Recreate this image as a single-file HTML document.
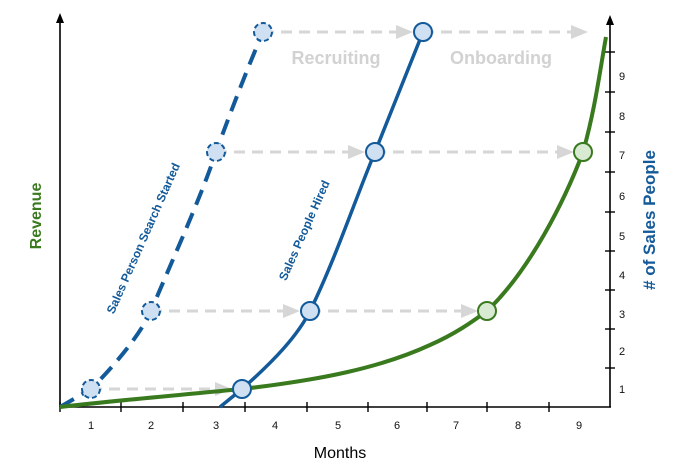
<!DOCTYPE html>
<html><head><meta charset="utf-8"><style>
html,body{margin:0;padding:0;background:#fff;}
svg{display:block;font-family:"Liberation Sans",Arial,sans-serif;}
</style></head><body>
<svg width="683" height="473" viewBox="0 0 683 473" xmlns="http://www.w3.org/2000/svg">
<!-- axes -->
<line x1="60" y1="407" x2="60" y2="22" stroke="#000" stroke-width="1.6"/>
<polygon points="60,13 56,23 64,23" fill="#000"/>
<line x1="610" y1="407" x2="610" y2="24" stroke="#000" stroke-width="1.6"/>
<polygon points="610,15 606,25 614,25" fill="#000"/>
<line x1="60" y1="407" x2="611" y2="407" stroke="#000" stroke-width="1.6"/>
<g stroke="#000" stroke-width="1.4">
<line x1="121" y1="402" x2="121" y2="412"/><line x1="183" y1="402" x2="183" y2="412"/><line x1="245" y1="402" x2="245" y2="412"/><line x1="307" y1="402" x2="307" y2="412"/><line x1="368" y1="402" x2="368" y2="412"/><line x1="427" y1="402" x2="427" y2="412"/><line x1="487" y1="402" x2="487" y2="412"/><line x1="549" y1="402" x2="549" y2="412"/><line x1="60" y1="402" x2="60" y2="412"/>
<line x1="605" y1="368" x2="615" y2="368"/><line x1="605" y1="329" x2="615" y2="329"/><line x1="605" y1="290" x2="615" y2="290"/><line x1="605" y1="251" x2="615" y2="251"/><line x1="605" y1="212" x2="615" y2="212"/><line x1="605" y1="172" x2="615" y2="172"/><line x1="605" y1="132" x2="615" y2="132"/><line x1="605" y1="92" x2="615" y2="92"/><line x1="605" y1="52" x2="615" y2="52"/>
</g>
<g font-size="11" fill="#111" text-anchor="middle">
<text x="91" y="429">1</text><text x="151" y="429">2</text><text x="216" y="429">3</text><text x="275" y="429">4</text><text x="338" y="429">5</text><text x="397" y="429">6</text><text x="456" y="429">7</text><text x="518" y="429">8</text><text x="579" y="429">9</text>
</g>
<g font-size="11" fill="#111">
<text x="619" y="393">1</text><text x="619" y="355">2</text><text x="619" y="318">3</text><text x="619" y="279">4</text><text x="619" y="240">5</text><text x="619" y="200">6</text><text x="619" y="159">7</text><text x="619" y="120">8</text><text x="619" y="80">9</text>
</g>
<text x="340" y="458" font-size="16" text-anchor="middle" fill="#000">Months</text>
<text transform="translate(41,216) rotate(-90)" font-size="16" font-weight="bold" fill="#3a7a1e" text-anchor="middle">Revenue</text>
<text transform="translate(655,220) rotate(-90)" font-size="17" font-weight="bold" fill="#135a9a" text-anchor="middle"># of Sales People</text>
<text x="336" y="64" font-size="18" font-weight="bold" fill="#d2d2d2" text-anchor="middle">Recruiting</text>
<text x="501" y="64" font-size="18" font-weight="bold" fill="#d2d2d2" text-anchor="middle">Onboarding</text>
<!-- gray dashed arrows -->
<g stroke="#d6d6d6" stroke-width="3" stroke-dasharray="11,7" fill="none">
<line x1="91" y1="389" x2="222" y2="389"/>
<line x1="151" y1="311" x2="288" y2="311"/><line x1="310" y1="311" x2="466" y2="311"/>
<line x1="216" y1="152" x2="353" y2="152"/><line x1="375" y1="152" x2="561" y2="152"/>
<line x1="263" y1="32" x2="401" y2="32"/><line x1="423" y1="32" x2="572" y2="32"/>
</g>
<g fill="#d6d6d6">
<polygon points="232,389 215,382 215,396"/>
<polygon points="300,311 283,304 283,318"/><polygon points="478,311 461,304 461,318"/>
<polygon points="365,152 348,145 348,159"/><polygon points="574,152 557,145 557,159"/>
<polygon points="413,32 396,25 396,39"/><polygon points="588,32 571,25 571,39"/>
</g>
<!-- dashed blue -->
<path d="M60,407 L91,389 C115,365 140,335 151,311 C170,265 200,200 216,152 C232,108 250,62 263,32" fill="none" stroke="#135a9a" stroke-width="4" stroke-dasharray="16,9"/>
<!-- hired -->
<path d="M220,407 L242,389 C275,360 298,335 310,311 C335,260 355,200 375,152 C392,110 408,70 423,32" fill="none" stroke="#135a9a" stroke-width="3.5"/>
<!-- green -->
<path d="M60,407 C120,400 190,394 242,389 C320,380 380,368 430,345 C455,334 472,322 487,311 C530,270 565,200 583,152 C595,110 600,70 606,37" fill="none" stroke="#3a7a1e" stroke-width="4"/>
<!-- circles -->
<g fill="#cfe0f2" stroke="#135a9a" stroke-width="2" stroke-dasharray="5,3">
<circle cx="91" cy="389" r="9"/><circle cx="151" cy="311" r="9"/><circle cx="216" cy="152" r="9"/><circle cx="263" cy="32" r="9"/>
</g>
<g fill="#cfe0f2" stroke="#135a9a" stroke-width="2">
<circle cx="242" cy="389" r="9"/><circle cx="310" cy="311" r="9"/><circle cx="375" cy="152" r="9"/><circle cx="423" cy="32" r="9"/>
</g>
<g fill="#d9ead3" stroke="#3a7a1e" stroke-width="2">
<circle cx="487" cy="311" r="9"/><circle cx="583" cy="152" r="9"/>
</g>
<text transform="translate(147,240) rotate(-66)" font-size="12" font-weight="bold" fill="#135a9a" text-anchor="middle">Sales Person Search Started</text>
<text transform="translate(308,232) rotate(-66)" font-size="12" font-weight="bold" fill="#135a9a" text-anchor="middle">Sales People Hired</text>
</svg>
</body></html>
